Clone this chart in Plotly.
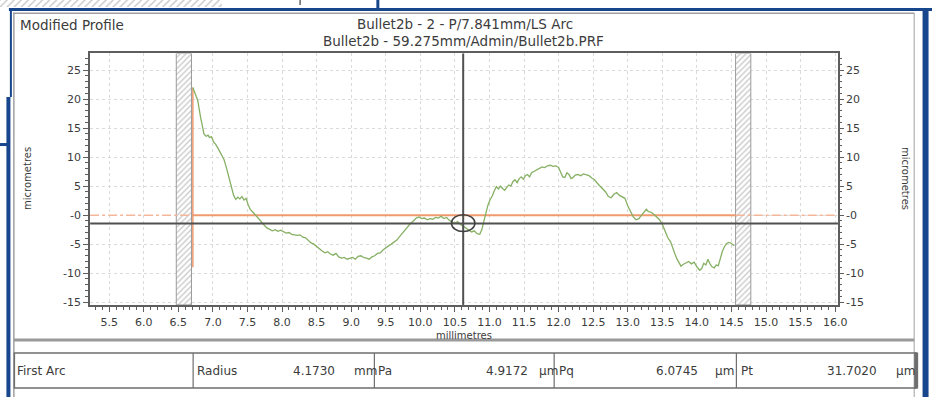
import plotly.graph_objects as go

# ---- profile data (millimetres, micrometres) ----
profile_x = [
    6.71, 6.74, 6.76, 6.78, 6.80, 6.82, 6.85, 6.87, 6.90, 6.93, 6.95, 6.98, 7.01, 7.04, 7.07, 7.10,
    7.13, 7.16, 7.19, 7.22, 7.24, 7.27, 7.30, 7.33, 7.36, 7.39, 7.42, 7.45, 7.48, 7.51, 7.54, 7.58,
    7.62, 7.66, 7.70, 7.74, 7.78, 7.82, 7.86, 7.90, 7.94, 7.98, 8.02, 8.06, 8.10, 8.14, 8.18, 8.22,
    8.26, 8.30, 8.34, 8.38, 8.42, 8.46, 8.50, 8.54, 8.58, 8.62, 8.66, 8.70, 8.74, 8.78, 8.82, 8.86,
    8.90, 8.94, 8.98, 9.02, 9.06, 9.10, 9.14, 9.18, 9.22, 9.26, 9.30, 9.34, 9.38, 9.42, 9.46, 9.50,
    9.54, 9.58, 9.62, 9.66, 9.70, 9.74, 9.78, 9.82, 9.86, 9.90, 9.94, 9.98, 10.02, 10.06, 10.10, 10.14,
    10.18, 10.22, 10.26, 10.30, 10.34, 10.38, 10.42, 10.46, 10.50, 10.54, 10.58, 10.62, 10.66, 10.70,
    10.74, 10.78, 10.82, 10.86, 10.89, 10.92, 10.95, 10.98, 11.01, 11.04, 11.07, 11.10, 11.13, 11.16,
    11.19, 11.22, 11.25, 11.28, 11.31, 11.34, 11.37, 11.40, 11.43, 11.46, 11.49, 11.52, 11.55, 11.58,
    11.61, 11.64, 11.67, 11.70, 11.73, 11.76, 11.80, 11.84, 11.88, 11.92, 11.96, 12.00, 12.03, 12.06,
    12.09, 12.12, 12.15, 12.18, 12.21, 12.24, 12.28, 12.32, 12.36, 12.40, 12.44, 12.48, 12.52, 12.56,
    12.60, 12.64, 12.68, 12.72, 12.76, 12.80, 12.84, 12.88, 12.92, 12.96, 13.00, 13.04, 13.08, 13.12,
    13.16, 13.20, 13.24, 13.27, 13.30, 13.34, 13.38, 13.42, 13.46, 13.50, 13.54, 13.58, 13.62, 13.65,
    13.68, 13.71, 13.74, 13.77, 13.80, 13.84, 13.88, 13.92, 13.96, 14.00, 14.04, 14.07, 14.10, 14.13,
    14.16, 14.19, 14.22, 14.25, 14.28, 14.31, 14.34, 14.37, 14.40, 14.43, 14.46, 14.49, 14.52, 14.54,
]
profile_y = [
    22.0, 21.2, 20.4, 19.8, 18.2, 17.0, 15.2, 14.0, 13.6, 13.8, 13.4, 13.5, 12.6, 12.2, 11.6, 11.0,
    10.2, 9.6, 8.4, 7.0, 5.8, 4.6, 3.4, 2.7, 3.1, 2.8, 3.2, 2.6, 2.9, 1.8, 1.0, 0.5,
    -0.1, -0.6, -1.2, -1.7, -2.2, -2.4, -2.7, -2.5, -2.8, -2.6, -2.9, -3.1, -3.0, -3.3, -3.4, -3.5,
    -3.4, -3.8, -3.9, -4.3, -4.8, -5.0, -5.4, -5.9, -6.2, -6.5, -6.3, -6.7, -6.9, -6.6, -7.2, -7.4,
    -7.3, -7.6, -7.5, -7.3, -7.6, -7.1, -7.0, -7.3, -7.4, -7.6, -7.2, -7.0, -6.6, -6.5, -6.0, -5.6,
    -5.3, -5.0, -4.6, -4.3, -3.7, -3.1, -2.6, -2.0, -1.4, -1.0, -0.5, -0.3, -0.6, -0.5, -0.8, -0.6,
    -0.7, -0.4, -0.5, -0.2, -0.6, -0.4, -0.9, -1.2, -1.4, -1.1, -1.6, -1.9, -2.2, -2.6,
    -2.9, -2.7, -3.2, -3.3, -2.5, -1.0, 0.6, 1.8, 2.7, 3.3, 4.2, 4.9, 4.5, 5.0,
    4.6, 4.3, 4.8, 5.2, 5.0, 5.8, 6.1, 5.6, 6.3, 6.6, 6.2, 6.8, 7.0, 6.6,
    7.3, 7.5, 7.7, 8.0, 8.1, 8.3, 8.2, 8.5, 8.6, 8.4, 8.5, 8.2, 7.4, 6.6,
    6.5, 7.3, 7.0, 6.3, 6.5, 6.9, 7.0, 6.8, 7.1, 6.9, 6.8, 6.4, 6.1, 5.5,
    5.0, 4.6, 4.0, 3.2, 3.0, 3.6, 3.9, 3.4, 3.1, 2.9, 1.6, 0.6, -0.3, -0.8,
    -0.6, 0.0, 0.7, 1.0, 0.6, 0.5, 0.1, -0.3, -0.8, -1.6, -2.8, -3.9, -4.6, -5.8,
    -6.6, -7.5, -8.3, -8.8, -8.5, -8.3, -8.0, -8.4, -8.1, -8.9, -9.5, -9.2, -8.3, -8.6,
    -7.6, -8.4, -8.9, -9.1, -8.6, -8.7, -7.4, -6.2, -5.4, -4.9, -4.7, -4.8, -5.1, -5.3,
]

# ---- axis ticks ----
x_ticks = [5.5, 6.0, 6.5, 7.0, 7.5, 8.0, 8.5, 9.0, 9.5, 10.0, 10.5, 11.0, 11.5, 12.0,
           12.5, 13.0, 13.5, 14.0, 14.5, 15.0, 15.5, 16.0]
x_tick_labels = ["5.5", "6.0", "6.5", "7.0", "7.5", "8.0", "8.5", "9.0", "9.5", "10.0", "10.5",
                 "11.0", "11.5", "12.0", "12.5", "13.0", "13.5", "14.0", "14.5", "15.0", "15.5", "16.0"]
y_ticks = [-15, -10, -5, 0, 5, 10, 15, 20, 25]
y_tick_labels = ["-15", "-10", "-5", "-0", "5", "10", "15", "20", "25"]

# ---- evaluation window, cursor and reference lines ----
excluded_left = [6.47, 6.69]
excluded_right = [14.56, 14.78]
arc_start = 6.71
arc_end = 14.56
arc_start_marker = [22.0, -9.0]
reference_level = 0.0
cursor_x = 10.62
cursor_y = -1.43

# ---- header and results table ----
panel_title = "Modified Profile"
title_line1 = "Bullet2b - 2 - P/7.841mm/LS Arc"
title_line2 = "Bullet2b - 59.275mm/Admin/Bullet2b.PRF"
table_labels = ["First Arc", "Radius", "Pa", "Pq", "Pt"]
table_values = ["4.1730", "4.9172", "6.0745", "31.7020"]
table_units = ["mm", "µm", "µm", "µm"]

X_RANGE = [5.224, 16.04]
Y_RANGE = [-15.48, 27.87]
W, H = 941, 401
PLOT_L, PLOT_R, PLOT_T, PLOT_B = 91, 846, 54, 308

FONT = "DejaVu Sans, Liberation Sans, Arial, sans-serif"
TXT = "#3c3c3c"
FRAME = "#5e5e5e"
BLUE = "#17468c"
ORANGE = "#f09a6e"
ORANGE_LIGHT = "#f6b699"
GREEN = "#86b064"

fig = go.Figure()

# excluded (hatched) zones at both ends of the evaluation length
for x0, x1 in (excluded_left, excluded_right):
    fig.add_trace(go.Scatter(
        x=[x0, x1, x1, x0, x0], y=[Y_RANGE[0], Y_RANGE[0], Y_RANGE[1], Y_RANGE[1], Y_RANGE[0]],
        mode="lines", fill="toself", line=dict(color="#9a9a9a", width=1),
        fillcolor="white",
        fillpattern=dict(shape="/", fgcolor="#8a8a8a", bgcolor="white", size=4, solidity=0.3),
        hoverinfo="skip", showlegend=False, xaxis="x", yaxis="y"))

# reference line (dash-dot outside the arc, solid across it)
fig.add_trace(go.Scatter(x=[X_RANGE[0], arc_start], y=[reference_level] * 2, mode="lines",
                         line=dict(color=ORANGE_LIGHT, width=1.5, dash="dashdot"),
                         hoverinfo="skip", showlegend=False))
fig.add_trace(go.Scatter(x=[arc_end, X_RANGE[1]], y=[reference_level] * 2, mode="lines",
                         line=dict(color=ORANGE_LIGHT, width=1.5, dash="dashdot"),
                         hoverinfo="skip", showlegend=False))
fig.add_trace(go.Scatter(x=[arc_start, arc_end], y=[reference_level] * 2, mode="lines",
                         line=dict(color=ORANGE, width=2),
                         hoverinfo="skip", showlegend=False))
fig.add_trace(go.Scatter(x=[arc_start, arc_start], y=arc_start_marker, mode="lines",
                         line=dict(color=ORANGE, width=1.5),
                         hoverinfo="skip", showlegend=False))

# modified profile
fig.add_trace(go.Scatter(x=profile_x, y=profile_y, mode="lines",
                         line=dict(color=GREEN, width=1.3),
                         hoverinfo="skip", showlegend=False))

# right-hand axis carrier
fig.add_trace(go.Scatter(x=X_RANGE, y=[reference_level] * 2, mode="lines",
                         line=dict(width=0, color="rgba(0,0,0,0)"),
                         hoverinfo="skip", showlegend=False, yaxis="y3"))

# invisible trace for the pixel-space overlay axes
fig.add_trace(go.Scatter(x=[0], y=[0], mode="lines", line=dict(width=0),
                         hoverinfo="skip", showlegend=False, xaxis="x2", yaxis="y2"))

# hatched strip along the very top edge
fig.add_trace(go.Scatter(x=[0, 224, 224, 0, 0], y=[0, 0, 7, 7, 0], mode="lines", fill="toself",
                         line=dict(width=0), fillcolor="white",
                         fillpattern=dict(shape="/", fgcolor="#9a9a9a", bgcolor="white", size=5, solidity=0.3),
                         hoverinfo="skip", showlegend=False, xaxis="x2", yaxis="y2"))

tickfont = dict(family=FONT, size=11, color=TXT)
common_axis = dict(showline=True, linecolor=FRAME, linewidth=2, ticks="outside", ticklen=5,
                   tickwidth=1, tickcolor=FRAME, zeroline=False, tickfont=tickfont, fixedrange=True)
GRID = dict(showgrid=True, gridcolor="#dadada", griddash="3px,3px", gridwidth=1)

fig.update_layout(
    width=W, height=H, margin=dict(l=0, r=0, t=0, b=0),
    paper_bgcolor="white", plot_bgcolor="rgba(0,0,0,0)",
    showlegend=False,
    xaxis=dict(domain=[PLOT_L / W, PLOT_R / W], range=X_RANGE, tickmode="array",
               tickvals=x_ticks, ticktext=x_tick_labels, mirror=True,
               minor=dict(tickmode="linear", tick0=5.0, dtick=0.1, ticks="outside", ticklen=3,
                          tickcolor=FRAME, showgrid=False),
               ticklabelstandoff=1, **GRID, **common_axis),
    yaxis=dict(domain=[1 - PLOT_B / H, 1 - PLOT_T / H], range=Y_RANGE, tickmode="array",
               tickvals=y_ticks, ticktext=y_tick_labels, mirror=True,
               minor=dict(tickmode="linear", tick0=0, dtick=1, ticks="outside", ticklen=3,
                          tickcolor=FRAME, showgrid=False),
               ticklabelstandoff=0, **GRID, **common_axis),
    yaxis3=dict(overlaying="y", side="right", anchor="x", range=Y_RANGE, tickmode="array",
                tickvals=y_ticks, ticktext=y_tick_labels, showgrid=False,
                showline=False, ticks="outside", ticklen=5, tickwidth=1, tickcolor=FRAME,
                zeroline=False, tickfont=tickfont, fixedrange=True, ticklabelstandoff=0,
                minor=dict(tickmode="linear", tick0=0, dtick=1, ticks="outside", ticklen=3,
                           tickcolor=FRAME, showgrid=False)),
    xaxis2=dict(domain=[0, 1], range=[0, W], visible=False, anchor="y2", fixedrange=True),
    yaxis2=dict(domain=[0, 1], range=[H, 0], visible=False, anchor="x2", fixedrange=True),
)

shapes = []


def px_line(x0, y0, x1, y1, color, width):
    shapes.append(dict(type="line", xref="x2", yref="y2", x0=x0, y0=y0, x1=x1, y1=y1,
                       line=dict(color=color, width=width)))


# cursor cross-hair and its marker
shapes.append(dict(type="line", xref="x", yref="paper", x0=cursor_x, x1=cursor_x,
                   y0=1 - PLOT_B / H, y1=1 - PLOT_T / H, line=dict(color="#505050", width=2)))
shapes.append(dict(type="line", xref="paper", yref="y", x0=PLOT_L / W, x1=PLOT_R / W,
                   y0=cursor_y, y1=cursor_y, line=dict(color="#505050", width=2)))
shapes.append(dict(type="circle", xref="x", yref="y", x0=cursor_x - 0.17, x1=cursor_x + 0.17,
                   y0=cursor_y - 1.4, y1=cursor_y + 1.5, line=dict(color="#404040", width=1.5)))

# window frame
px_line(303, 0, 303, 5, "#666", 1.5)
px_line(381.5, 0, 381.5, 9, BLUE, 3)
px_line(9, 9.5, W, 9.5, BLUE, 3)
px_line(11, 9, 11, 98, BLUE, 2)
px_line(8.5, 98, 8.5, H, BLUE, 4)
px_line(0, 146, 10, 146, BLUE, 3)
px_line(934.5, 8, 934.5, H, BLUE, 6)

# inner panel border
px_line(13, 13.5, 923, 13.5, "#a0a0a0", 1.5)
px_line(14, 13, 14, H, "#a0a0a0", 1.5)
px_line(923, 13, 923, H, "#a0a0a0", 1)
px_line(14, 343.5, 923, 343.5, "#9a9a9a", 3)

# results table
shapes.append(dict(type="rect", xref="x2", yref="y2", x0=14.5, x1=925, y0=356.5, y1=392,
                   line=dict(color="#6e6e6e", width=1.5)))
px_line(925, 356, 925, 392.5, "#6e6e6e", 4)
for cx in (195, 378, 559.5, 743.5):
    px_line(cx, 356.5, cx, 392, "#6e6e6e", 1.2)

fig.update_layout(shapes=shapes)

ann = []


def px_text(x, y, text, size, anchor="left", angle=0):
    ann.append(dict(xref="x2", yref="y2", x=x, y=y, text=text, showarrow=False,
                    xanchor=anchor, yanchor="middle", textangle=angle,
                    font=dict(family=FONT, size=size, color=TXT)))


px_text(18, 25, panel_title, 13.5)
px_text(469, 24, title_line1, 13.5, "center")
px_text(468, 41, title_line2, 13.5, "center")
px_text(27, 180, "micrometres", 10, "center", -90)
px_text(915, 180, "micrometres", 10, "center", 90)
px_text(468, 339, "millimetres", 10, "center")

row_y = 374.5
px_text(15, row_y, table_labels[0], 12)
px_text(197, row_y, table_labels[1], 12)
px_text(380, row_y, table_labels[2], 12)
px_text(562, row_y, table_labels[3], 12)
px_text(746, row_y, table_labels[4], 12)
for vx, val in zip((340, 535, 707, 887), table_values):
    px_text(vx, row_y, val, 12, "right")
for ux, unit in zip((355, 542, 720, 903), table_units):
    px_text(ux, row_y, unit, 12)

fig.update_layout(annotations=ann)

fig.write_html("out.html", config={"displayModeBar": False, "staticPlot": True})
